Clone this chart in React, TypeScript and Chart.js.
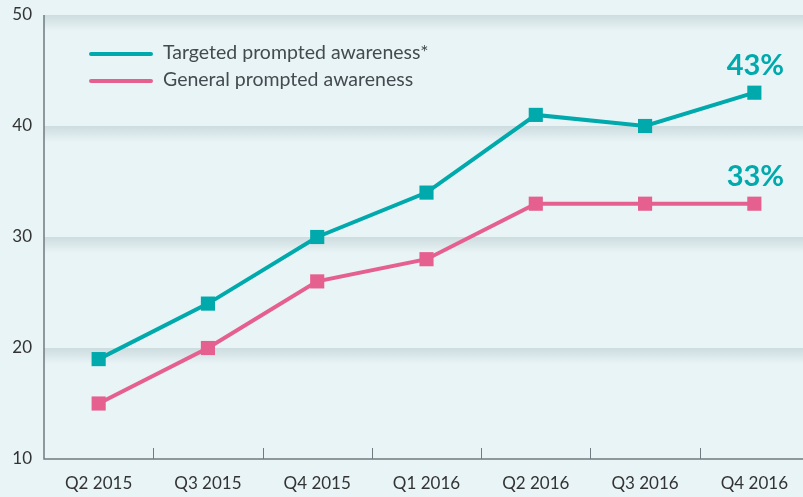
import React, { useEffect, useRef } from "react";
import { Chart, registerables } from "chart.js";

Chart.register(...registerables);

const categories = ["Q2 2015", "Q3 2015", "Q4 2015", "Q1 2016", "Q2 2016", "Q3 2016", "Q4 2016"];
const targeted = [19, 24, 30, 34, 41, 40, 43];
const general = [15, 20, 26, 28, 33, 33, 33];
const seriesNames = ["Targeted prompted awareness*", "General prompted awareness"];
const endLabels = ["43%", "33%"];
const yTicks = [10, 20, 30, 40, 50];

const BG = "#e9f4f6";
const TEAL = "#00a9ac";
const PINK = "#e5608e";
const FONT = "Lato, 'Open Sans', sans-serif";
const W = 819;

const decorPlugin = {
  id: "decor",
  beforeDraw(chart: any) {
    const { ctx, chartArea, scales } = chart;
    ctx.save();
    ctx.fillStyle = BG;
    ctx.fillRect(0, 0, chart.width, chart.height);
    const y = scales.y;
    for (const v of yTicks) {
      if (v === 10) continue;
      const py = y.getPixelForValue(v);
      const g = ctx.createLinearGradient(0, py, 0, py + 16);
      g.addColorStop(0, "rgba(200,216,219,0.85)");
      g.addColorStop(1, "rgba(200,216,219,0)");
      ctx.fillStyle = g;
      ctx.fillRect(chartArea.left, py, chart.width - chartArea.left, 16);
    }
    ctx.restore();
  },
  afterDatasetsDraw(chart: any) {
    const { ctx, chartArea, scales } = chart;
    const x = scales.x;
    ctx.save();
    ctx.strokeStyle = "#6f7b80";
    ctx.lineWidth = 1.5;
    ctx.beginPath();
    ctx.moveTo(chartArea.left, chartArea.top);
    ctx.lineTo(chartArea.left, chartArea.bottom);
    ctx.lineTo(chart.width, chartArea.bottom);
    ctx.stroke();
    ctx.lineWidth = 1;
    for (let i = 1; i < categories.length; i++) {
      const px = Math.round((x.getPixelForValue(i - 1) + x.getPixelForValue(i)) / 2) + 0.5;
      ctx.beginPath();
      ctx.moveTo(px, chartArea.bottom - 11);
      ctx.lineTo(px, chartArea.bottom);
      ctx.stroke();
    }
    const lx = 91;
    const rows = [54, 81];
    chart.data.datasets.forEach((ds: any, i: number) => {
      ctx.strokeStyle = ds.borderColor;
      ctx.lineWidth = 4;
      ctx.lineCap = "round";
      ctx.beginPath();
      ctx.moveTo(lx, rows[i]);
      ctx.lineTo(lx + 60, rows[i]);
      ctx.stroke();
      ctx.fillStyle = "#444b50";
      ctx.font = `19.5px ${FONT}`;
      ctx.textBaseline = "middle";
      ctx.textAlign = "left";
      ctx.fillText(ds.label, 163, rows[i] - 1);
    });
    chart.data.datasets.forEach((ds: any, i: number) => {
      const meta = chart.getDatasetMeta(i);
      const pt = meta.data[meta.data.length - 1];
      ctx.fillStyle = TEAL;
      ctx.font = `bold 29px ${FONT}`;
      ctx.textAlign = "center";
      ctx.textBaseline = "alphabetic";
      ctx.fillText(endLabels[i], pt.x + 1, pt.y - 18);
    });
    ctx.restore();
  },
};

export default function App() {
  const ref = useRef<HTMLCanvasElement>(null);
  useEffect(() => {
    document.body.style.margin = "0";
    document.body.style.overflow = "hidden";
    document.body.style.background = BG;
    const chart = new Chart(ref.current!, {
      type: "line",
      data: {
        labels: categories,
        datasets: [
          {
            label: seriesNames[0],
            data: targeted,
            borderColor: TEAL,
            backgroundColor: TEAL,
            borderWidth: 4,
            pointStyle: "rect",
            pointRadius: 10,
            pointBorderWidth: 0,
            tension: 0,
          },
          {
            label: seriesNames[1],
            data: general,
            borderColor: PINK,
            backgroundColor: PINK,
            borderWidth: 4,
            pointStyle: "rect",
            pointRadius: 10,
            pointBorderWidth: 0,
            tension: 0,
          },
        ],
      },
      options: {
        animation: false,
        responsive: false,
        layout: { padding: { top: 15, right: 0, left: 0, bottom: 0 } },
        plugins: { legend: { display: false }, tooltip: { enabled: false } },
        scales: {
          x: {
            offset: true,
            grid: { display: false, drawTicks: false },
            border: { display: false },
            ticks: { color: "#333", font: { family: FONT, size: 17 }, padding: 14, maxRotation: 0 },
            afterFit(s: any) {
              s.height = 38;
              s.paddingLeft = 0;
              s.paddingRight = 0;
            },
          },
          y: {
            min: 10,
            max: 50,
            ticks: { stepSize: 10, color: "#333", font: { family: FONT, size: 17 }, padding: 12 },
            grid: { display: false, drawTicks: false },
            border: { display: false },
            afterFit(s: any) {
              s.width = 44;
              s.paddingTop = 0;
              s.paddingBottom = 0;
            },
          },
        },
      },
      plugins: [decorPlugin],
    });
    return () => chart.destroy();
  }, []);
  return (
    <div style={{ position: "absolute", left: 0, top: 0, width: W, height: 497, overflow: "hidden" }}>
      <canvas ref={ref} width={W} height={497} style={{ display: "block", width: W, height: 497 }} />
    </div>
  );
}
